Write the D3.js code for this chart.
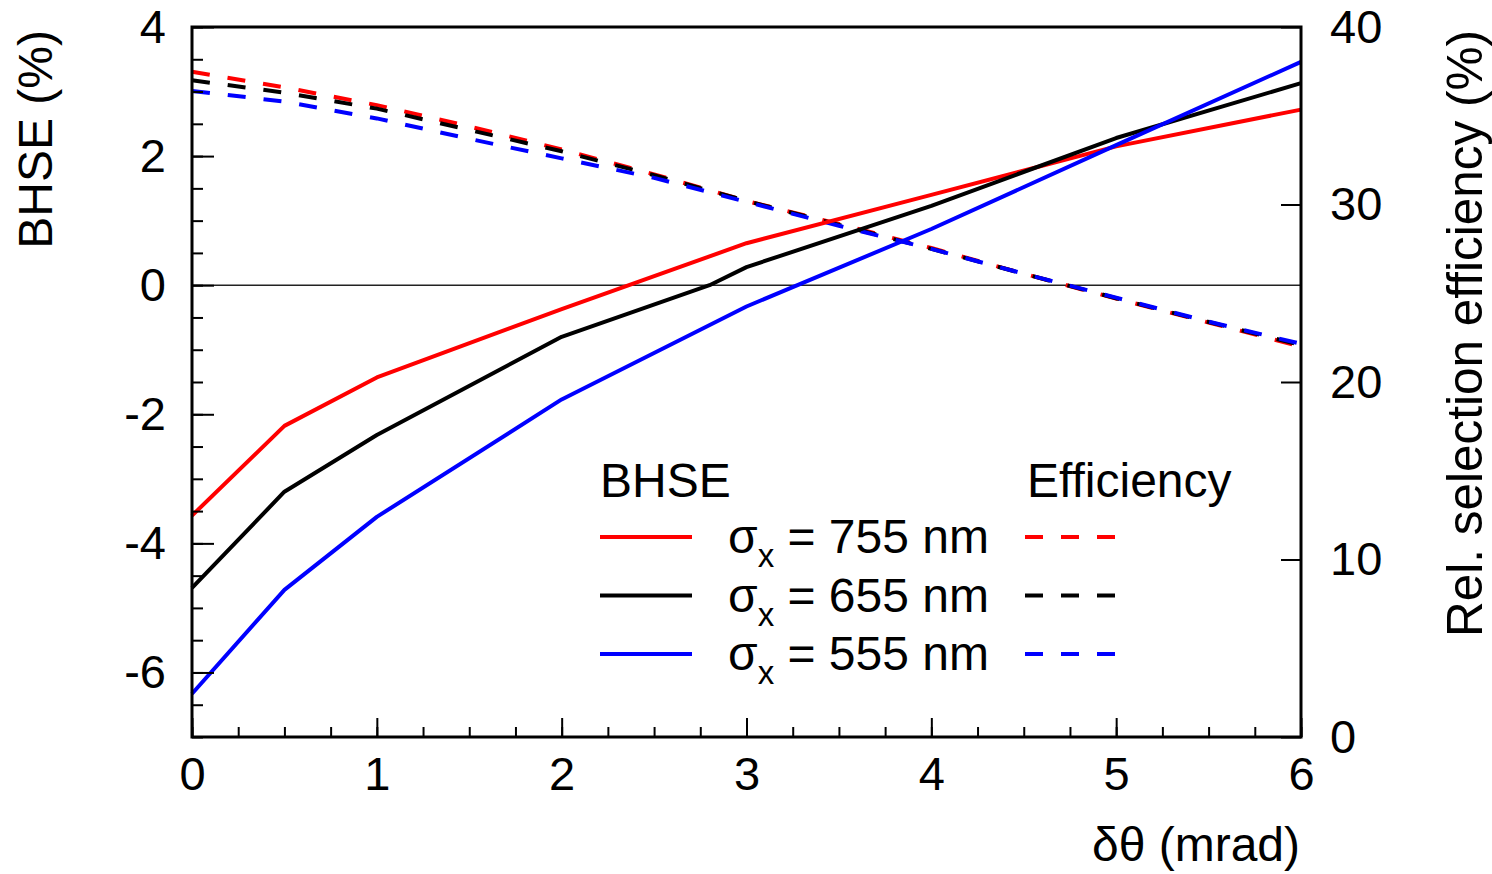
<!DOCTYPE html>
<html>
<head>
<meta charset="utf-8">
<script src="https://cdn.jsdelivr.net/npm/d3@7"></script>
<style>
  body { margin: 0; background: #fff; }
  svg { display: block; }
  text { font-family: "Liberation Sans", Arial, sans-serif; fill: #000; }
</style>
</head>
<body>
<svg width="1492" height="874"></svg>
<script>
// BHSE (left axis, %) vs delta theta (mrad)
const bhseX = {
  r: [0, 0.5, 1, 2, 3, 4, 5, 6],
  k: [0, 0.5, 1, 2, 2.8, 3, 4, 5, 6],
  b: [0, 0.5, 1, 2, 3, 4, 5, 6]
};
const bhse755 = [-3.57, -2.18, -1.43, -0.37, 0.65, 1.40, 2.15, 2.72];
const bhse655 = [-4.69, -3.20, -2.32, -0.80, 0.0, 0.28, 1.23, 2.28, 3.13];
const bhse555 = [-6.33, -4.72, -3.59, -1.77, -0.33, 0.87, 2.17, 3.46];

// relative selection efficiency (right axis, %)
const effX = [0, 0.5, 1, 1.5, 2, 2.5, 3, 3.5, 4, 4.5, 5, 5.5, 6];
const eff755 = [37.48, 36.6, 35.6, 34.4, 33.1, 31.7, 30.2, 28.9, 27.55, 26.1, 24.7, 23.35, 22.0];
const eff655 = [37.0, 36.3, 35.4, 34.2, 33.0, 31.65, 30.2, 28.85, 27.5, 26.1, 24.72, 23.38, 22.08];
const eff555 = [36.4, 35.8, 34.85, 33.7, 32.6, 31.5, 30.15, 28.8, 27.5, 26.1, 24.75, 23.4, 22.15];

const sigmaLabels = ['755', '655', '555'];
const colors = ['#ff0000', '#000000', '#0000ff'];

const xTicks = [0, 1, 2, 3, 4, 5, 6];
const yLeftTicks = [-6, -4, -2, 0, 2, 4];
const yRightTicks = [0, 10, 20, 30, 40];

const svg = d3.select('svg');
const mLeft = 192, mRight = 1301, mTop = 27, mBottom = 737;
const fs = 47;   // tick labels
const fsT = 48;  // titles + legend

const x = d3.scaleLinear().domain([0, 6]).range([mLeft, mRight]);
const yL = d3.scaleLinear().domain([-7, 4]).range([mBottom, mTop]);
const yR = d3.scaleLinear().domain([0, 40]).range([mBottom, mTop]);

// zero line
svg.append('line')
  .attr('x1', x(0)).attr('x2', x(6))
  .attr('y1', yL(0)).attr('y2', yL(0))
  .attr('stroke', '#222').attr('stroke-width', 1.5);

// curves
const solid = [
  { xs: bhseX.r, ys: bhse755, c: colors[0] },
  { xs: bhseX.k, ys: bhse655, c: colors[1] },
  { xs: bhseX.b, ys: bhse555, c: colors[2] }
];
const dashed = [
  { ys: eff755, c: colors[0] },
  { ys: eff655, c: colors[1] },
  { ys: eff555, c: colors[2] }
];

const lineL = d3.line().x(d => x(d[0])).y(d => yL(d[1]));
const lineR = d3.line().x(d => x(d[0])).y(d => yR(d[1]));

svg.append('g').selectAll('path')
  .data(dashed)
  .join('path')
  .attr('d', d => lineR(effX.map((v, i) => [v, d.ys[i]])))
  .attr('fill', 'none')
  .attr('stroke', d => d.c)
  .attr('stroke-width', 4)
  .attr('stroke-dasharray', '18,18');

svg.append('g').selectAll('path')
  .data(solid)
  .join('path')
  .attr('d', d => lineL(d.xs.map((v, i) => [v, d.ys[i]])))
  .attr('fill', 'none')
  .attr('stroke', d => d.c)
  .attr('stroke-width', 4)
  .attr('stroke-linejoin', 'round');

// axes (ticks point inward)
function styleAxis(g) {
  g.select('.domain').remove();
  g.selectAll('.tick line').attr('stroke', '#000').attr('stroke-width', 2);
  g.selectAll('text').attr('font-size', fs).attr('font-family', '"Liberation Sans", Arial, sans-serif');
}

svg.append('g')
  .attr('transform', `translate(0,${mBottom})`)
  .call(d3.axisBottom(x).tickValues(d3.range(0, 6.01, 0.25)).tickSize(-10).tickFormat(''))
  .call(styleAxis);
svg.append('g')
  .attr('transform', `translate(0,${mBottom})`)
  .call(d3.axisBottom(x).tickValues(xTicks).tickSize(-19).tickPadding(20).tickFormat(d => String(d)))
  .call(styleAxis);

svg.append('g')
  .attr('transform', `translate(${mLeft},0)`)
  .call(d3.axisLeft(yL).tickValues(d3.range(-7, 4.01, 0.5)).tickSize(-11).tickFormat(''))
  .call(styleAxis);
svg.append('g')
  .attr('transform', `translate(${mLeft},0)`)
  .call(d3.axisLeft(yL).tickValues(yLeftTicks).tickSize(-22).tickPadding(26).tickFormat(d => String(d)))
  .call(styleAxis);

svg.append('g')
  .attr('transform', `translate(${mRight},0)`)
  .call(d3.axisRight(yR).tickValues(yRightTicks).tickSize(-20).tickPadding(29).tickFormat(d => String(d)))
  .call(styleAxis);

// frame
svg.append('rect')
  .attr('x', mLeft).attr('y', mTop)
  .attr('width', mRight - mLeft).attr('height', mBottom - mTop)
  .attr('fill', 'none').attr('stroke', '#000').attr('stroke-width', 3);

// axis titles
svg.append('text')
  .attr('transform', 'translate(52,30) rotate(-90)')
  .attr('text-anchor', 'end')
  .attr('font-size', fsT)
  .text('BHSE (%)');

svg.append('text')
  .attr('transform', 'translate(1482,30) rotate(-90)')
  .attr('text-anchor', 'end')
  .attr('font-size', 49.5)
  .text('Rel. selection efficiency (%)');

svg.append('text')
  .attr('x', 1300).attr('y', 861)
  .attr('text-anchor', 'end')
  .attr('font-size', fsT)
  .text('δθ (mrad)');

// legend
const leg = svg.append('g');
leg.append('text').attr('x', 600).attr('y', 497).attr('font-size', fsT).text('BHSE');
leg.append('text').attr('x', 1027).attr('y', 497).attr('font-size', fsT).text('Efficiency');

const rows = leg.selectAll('g.row')
  .data(sigmaLabels)
  .join('g')
  .attr('class', 'row')
  .attr('transform', (d, i) => `translate(0,${537 + i * 58.5})`);

rows.append('line')
  .attr('x1', 600).attr('x2', 692)
  .attr('stroke', (d, i) => colors[i]).attr('stroke-width', 4);
rows.append('line')
  .attr('x1', 1025).attr('x2', 1117)
  .attr('stroke', (d, i) => colors[i]).attr('stroke-width', 4)
  .attr('stroke-dasharray', '18,18');

const lt = rows.append('text')
  .attr('x', 728).attr('y', 16)
  .attr('font-size', fsT);
lt.append('tspan').text('σ');
lt.append('tspan').attr('dy', 14).attr('font-size', 33).text('x');
lt.append('tspan').attr('dy', -14).text(d => ` = ${d} nm`);
</script>
</body>
</html>
